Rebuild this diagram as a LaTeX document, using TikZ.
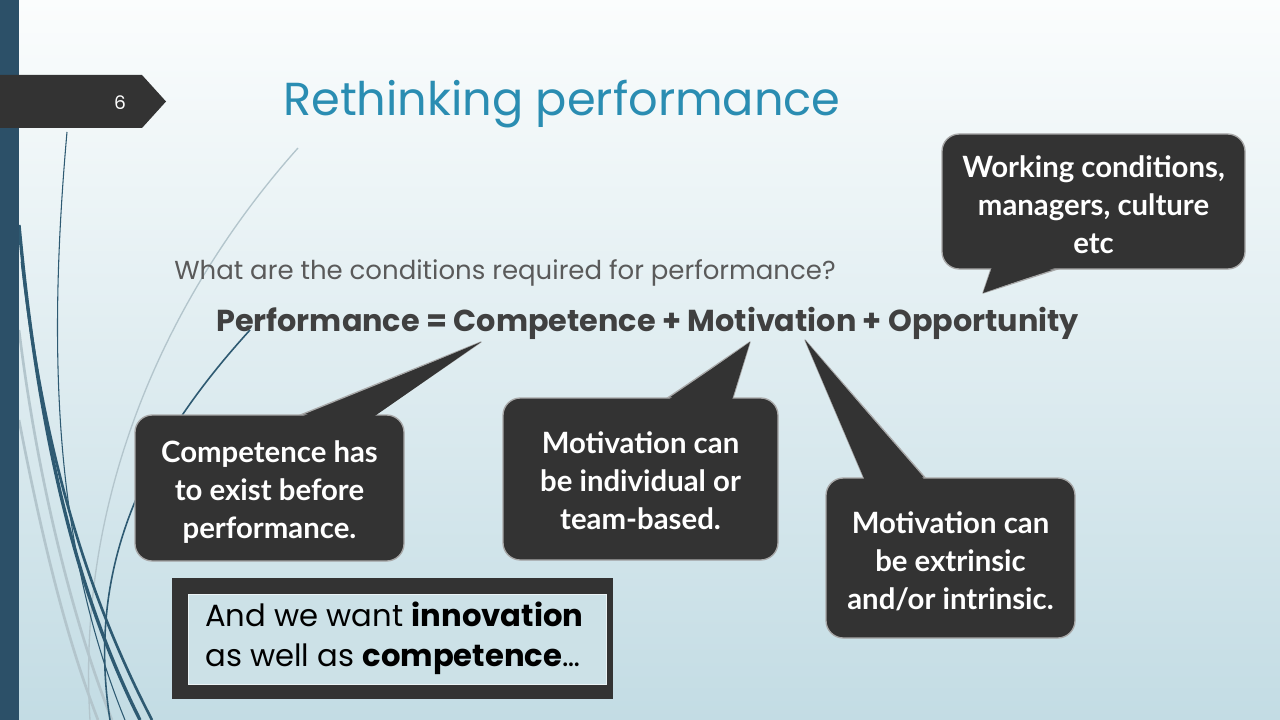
\documentclass[tikz,border=0pt]{standalone}
\usepackage{fontspec}
\usepackage{graphicx}
\setmainfont{Poppins}
\newfontfamily\callfont{Lato}
\usetikzlibrary{calc}
\definecolor{bar}{HTML}{2C5068}
\definecolor{titleblue}{HTML}{2A8DB2}
\definecolor{dark}{HTML}{333333}
\definecolor{bgtop}{HTML}{FBFDFD}
\definecolor{bgmid}{HTML}{E2EDF0}
\definecolor{bgbot}{HTML}{C3DCE4}
\definecolor{curvedark}{HTML}{2E5A72}
\definecolor{curvelight}{HTML}{B3C5CC}
\definecolor{outline}{HTML}{A8A8A8}
\definecolor{innerbg}{HTML}{CCE1E7}
\definecolor{qgray}{HTML}{5A5A5A}
\definecolor{eqgray}{HTML}{404040}
\tikzset{
  callout/.style={rounded corners=13pt, fill=dark, draw=outline, line width=1pt, inner sep=0pt},
  callouttext/.style={text=white, align=center, inner sep=0pt,
    font=\callfont\bfseries\fontsize{22}{28.5}\selectfont},
  ptrline/.style={fill=dark, draw=outline, line width=1pt, line join=round},
  ptrfill/.style={fill=dark},
  darkcurve/.style={draw=curvedark},
  lightcurve/.style={draw=curvelight},
}
\begin{document}
\begin{tikzpicture}[x=0.75pt,y=-0.75pt]
\useasboundingbox (0,0) rectangle (1280,720);
% background
\shade[top color=bgtop, middle color=bgmid, bottom color=bgbot] (0,0) rectangle (1280,720);
% decorative curves
\draw[lightcurve, line width=1pt] (298,148) .. controls (180,280) and (75,480) .. (90,720);
\draw[lightcurve, line width=2pt] (19,330) .. controls (40,500) and (80,640) .. (112,720);
\draw[lightcurve, line width=2pt] (19,420) .. controls (50,580) and (75,660) .. (98,720);
\draw[darkcurve, line width=0.8pt] (67,132) .. controls (45,380) and (60,560) .. (125,720);
\draw[darkcurve, line width=2.5pt] (19,225) .. controls (40,450) and (80,600) .. (140,720);
\draw[darkcurve, line width=2pt] (22,262) .. controls (45,470) and (95,610) .. (152,720);
\draw[darkcurve, line width=1.2pt] (250,330) .. controls (150,440) and (85,560) .. (110,720);
% left bar
\fill[bar] (0,0) rectangle (19,720);
% page tag
\fill[dark] (0,75) -- (142,75) -- (166,101.5) -- (142,128) -- (0,128) -- cycle;
\node[text=white, font=\fontsize{14}{14}\selectfont, inner sep=0] (num) at (120,103) {6};
% title and texts
\node[anchor=west, text=titleblue, inner sep=0] (title) at (283,104)
  {\resizebox{418pt}{!}{\fontsize{32}{38}\selectfont Rethinking performance}};
\node[anchor=west, text=qgray, inner sep=0] (question) at (174,273)
  {\resizebox{496pt}{!}{\fontsize{18}{22}\selectfont What are the conditions required for performance?}};
\node[anchor=west, text=eqgray, inner sep=0] (equation) at (216,323)
  {\resizebox{647pt}{!}{\fontsize{20}{24}\selectfont\bfseries Performance = Competence + Motivation + Opportunity}};
% pointer tips
\coordinate (t1) at (481,342);
\coordinate (t2) at (750,342);
\coordinate (t3) at (805,340);
\coordinate (t4) at (983,293);
% callout 1
\filldraw[ptrline] (293,418) -- (t1) -- (370,418) -- cycle;
\node[callout, minimum width=269*0.75pt, minimum height=146*0.75pt] (c1) at (269.5,488) {};
\fill[ptrfill] (294,420) -- (t1) -- (369,420) -- cycle;
\node[callouttext] (c1text) at ($(c1.center)+(0,4)$) {Competence has\\to exist before\\performance.};
% callout 2
\filldraw[ptrline] (663,401) -- (t2) -- (732,401) -- cycle;
\node[callout, minimum width=275*0.75pt, minimum height=162*0.75pt] (c2) at (640.5,479) {};
\fill[ptrfill] (664,403) -- (t2) -- (731,403) -- cycle;
\node[callouttext] (c2text) at ($(c2.center)+(0,2)$) {Motivation can\\be individual or\\team-based.};
% callout 3
\filldraw[ptrline] (865,481) -- (t3) -- (928,481) -- cycle;
\node[callout, minimum width=249*0.75pt, minimum height=160*0.75pt] (c3) at (950.5,558) {};
\fill[ptrfill] (866,483) -- (t3) -- (927,483) -- cycle;
\node[callouttext] (c3text) at ($(c3.center)+(0,3)$) {Motivation can\\be extrinsic\\and/or intrinsic.};
% callout 4
\filldraw[ptrline] (992,266) -- (t4) -- (1067,266) -- cycle;
\node[callout, minimum width=303*0.75pt, minimum height=135*0.75pt] (c4) at (1093.5,201.5) {};
\fill[ptrfill] (993,264) -- (t4) -- (1066,264) -- cycle;
\node[callouttext] (c4text) at ($(c4.center)+(0,3)$) {Working conditions,\\managers, culture\\etc};
% bottom box
\node[fill=dark, minimum width=441*0.75pt, minimum height=121*0.75pt, inner sep=0] (outerbox) at (392.5,638.5) {};
\node[fill=innerbg, draw=white!60!innerbg, line width=0.5pt, minimum width=418*0.75pt, minimum height=90*0.75pt, inner sep=0] (innerbox) at (397,639) {};
\node[anchor=west, align=left, text=black, inner sep=0,
  font=\fontsize{23}{30}\selectfont] (note) at (205,638)
  {And we want \textbf{innovation}\\as well as \textbf{competence}…};
\end{tikzpicture}
\end{document}
